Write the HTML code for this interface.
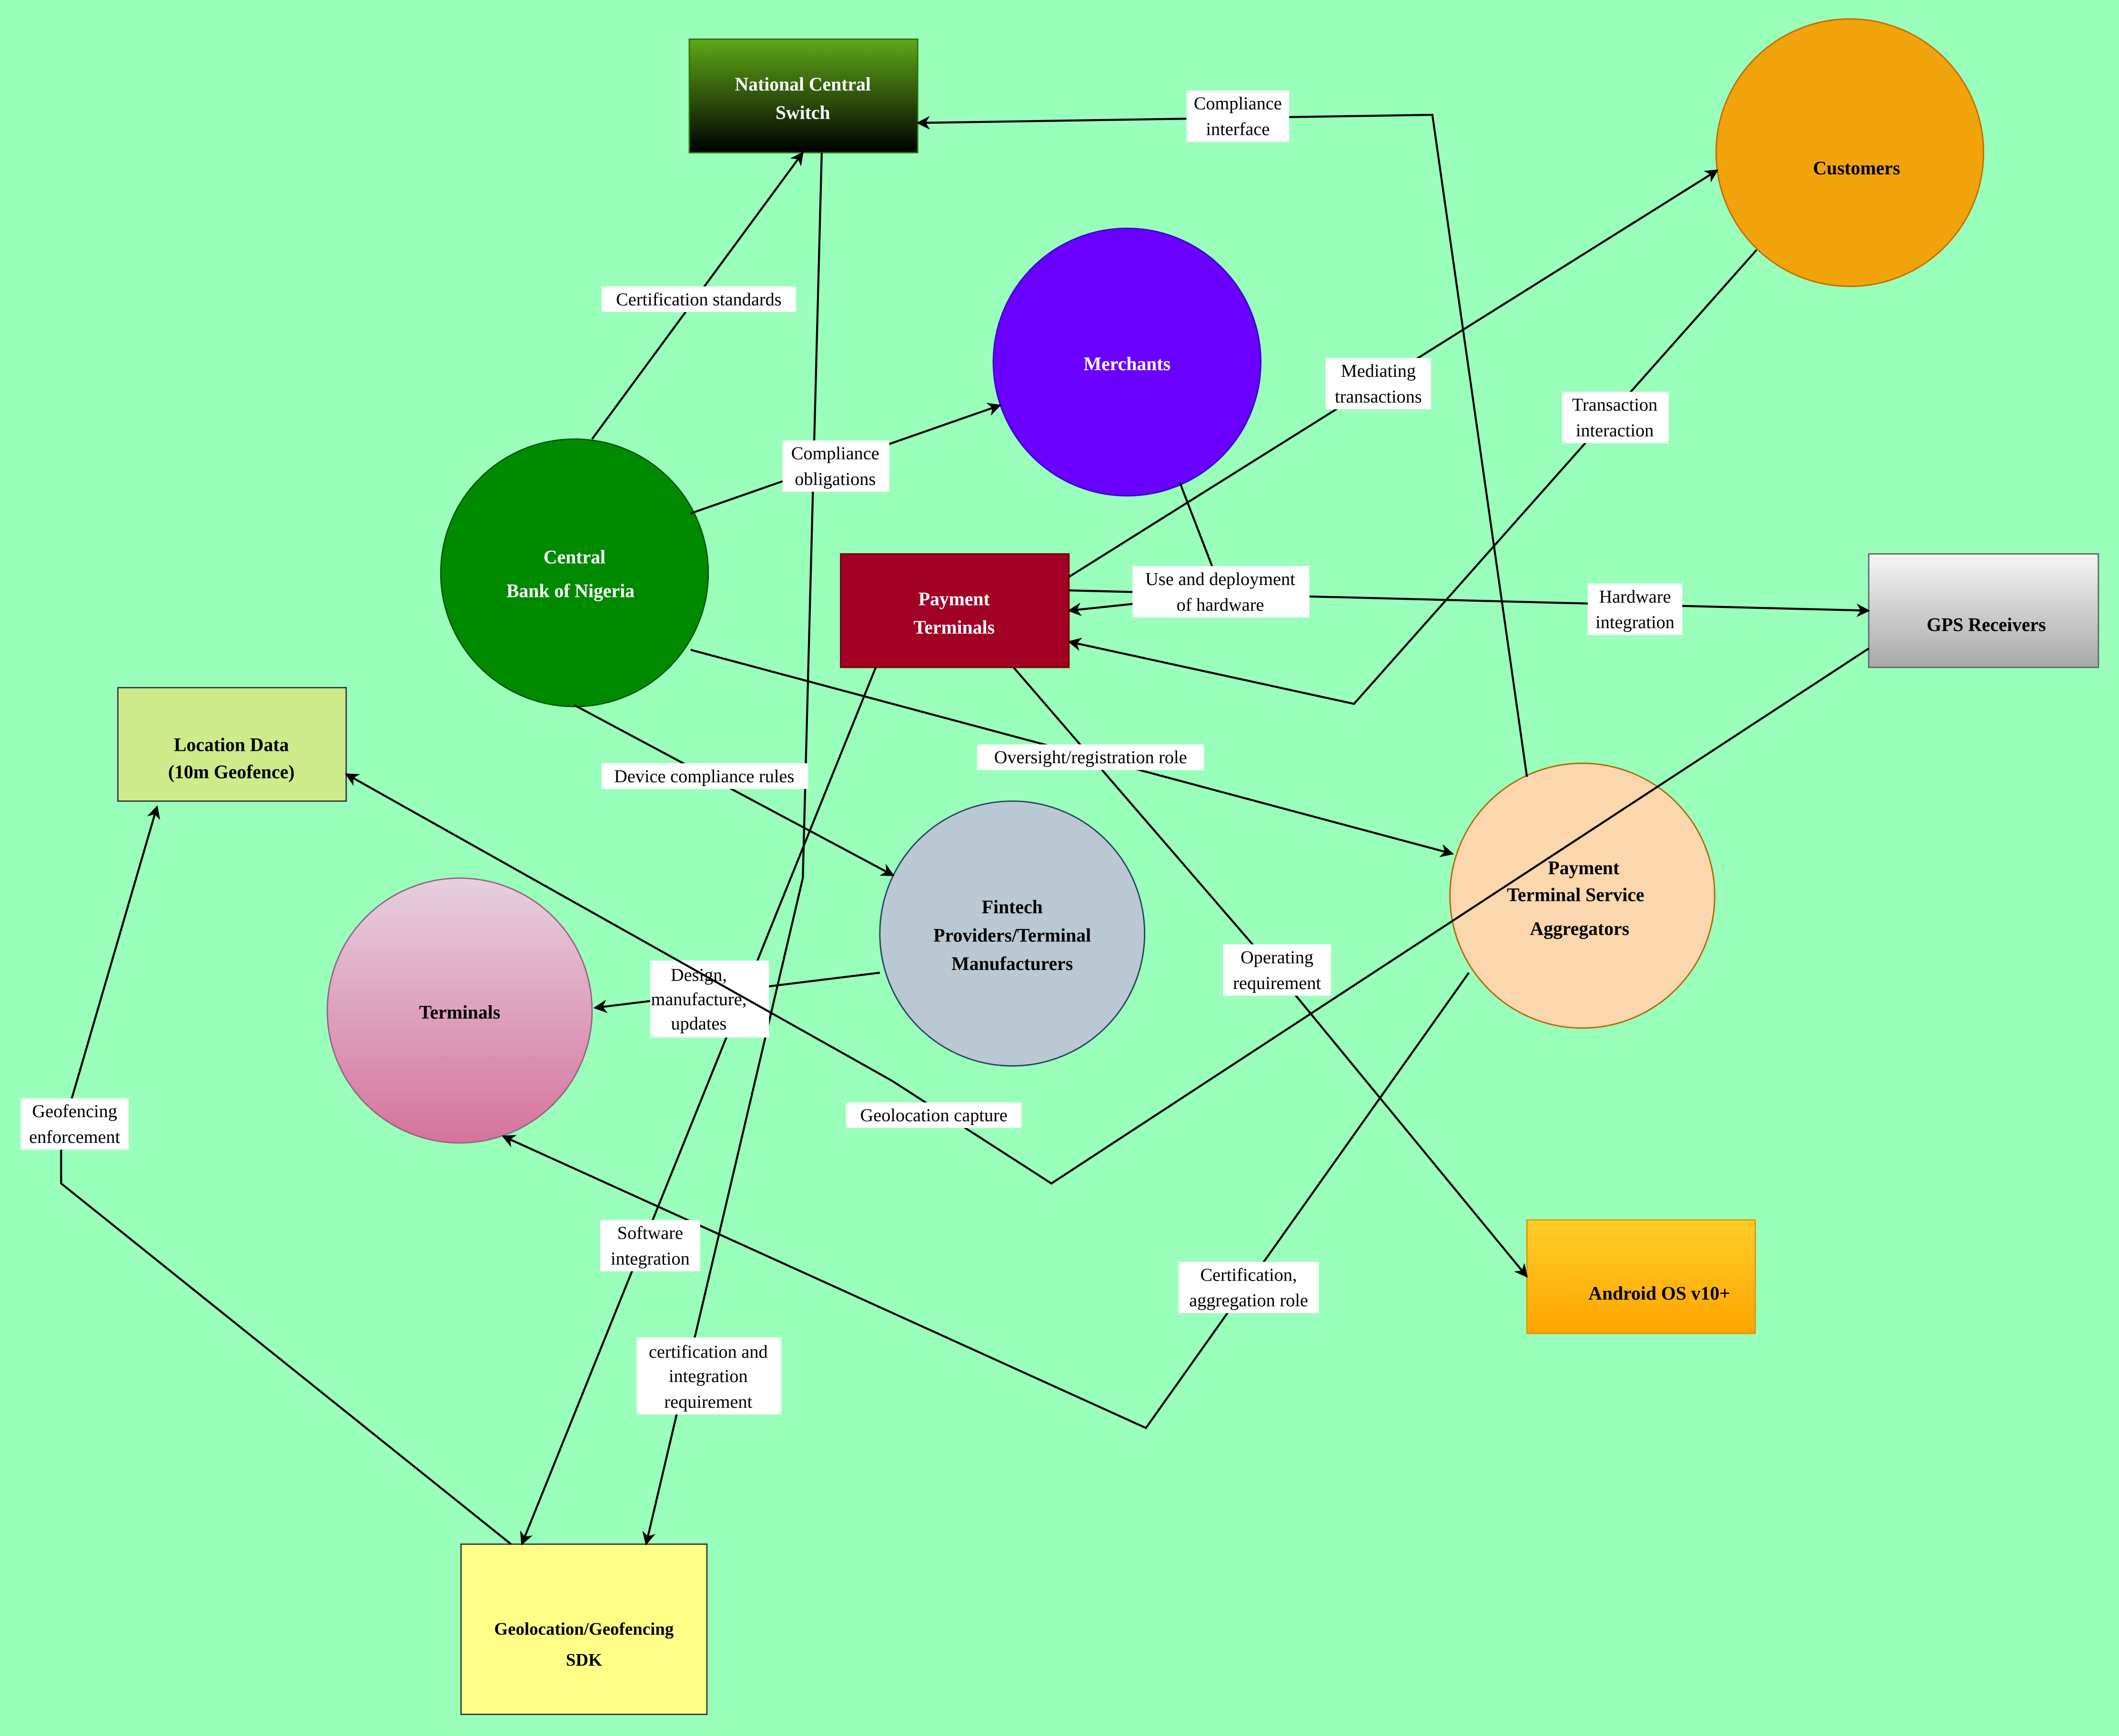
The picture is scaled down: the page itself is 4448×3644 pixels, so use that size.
<!DOCTYPE html>
<html><head><meta charset="utf-8"><style>
html,body{margin:0;padding:0;background:#99ffbb;}
svg{display:block}
text{font-family:"Liberation Serif",serif;}
.n{font-weight:bold;font-size:14px;text-anchor:middle}
.l{font-size:13.5px;text-anchor:middle;fill:#000}
.e{fill:none;stroke:#000;stroke-width:1.5}
</style></head><body>
<svg width="4448" height="3644" viewBox="0 0 1568 1285" xmlns="http://www.w3.org/2000/svg">
<defs>
<linearGradient id="gn" x1="0" y1="0" x2="0" y2="1"><stop offset="0" stop-color="#60a917"/><stop offset="1" stop-color="#000"/></linearGradient>
<linearGradient id="gg" x1="0" y1="0" x2="0" y2="1"><stop offset="0" stop-color="#f5f5f5"/><stop offset="1" stop-color="#a8a8a8"/></linearGradient>
<linearGradient id="gt" x1="0" y1="0" x2="0" y2="1"><stop offset="0" stop-color="#e6d0de"/><stop offset="1" stop-color="#d5739d"/></linearGradient>
<linearGradient id="ga" x1="0" y1="0" x2="0" y2="1"><stop offset="0" stop-color="#ffcd28"/><stop offset="1" stop-color="#ffa500"/></linearGradient>
<marker id="a" markerWidth="10" markerHeight="10" refX="9" refY="5" orient="auto" markerUnits="userSpaceOnUse"><path d="M0,0 L10,5 L0,10 L3,5 z" fill="#000"/></marker>
</defs>
<rect width="1568" height="1285" fill="#99ffbb"/>
<!-- nodes -->
<rect x="510" y="29" width="169" height="84" fill="url(#gn)" stroke="#2d7600"/>
<text class="n" x="594" y="67" fill="#fff">National Central</text><text class="n" x="594" y="88" fill="#fff">Switch</text>
<circle cx="1369" cy="113" r="99" fill="#f0a30a" stroke="#c46a00"/>
<text class="n" x="1374" y="129" fill="#000">Customers</text>
<circle cx="834" cy="268" r="99" fill="#6a00ff" stroke="#3700cc"/>
<text class="n" x="834" y="274" fill="#fff">Merchants</text>
<circle cx="425" cy="424" r="99" fill="#008a00" stroke="#005700"/>
<text class="n" x="425" y="417" fill="#fff">Central</text><text class="n" x="422" y="442" fill="#fff">Bank of Nigeria</text>
<rect x="622" y="410" width="169" height="84" fill="#a20025" stroke="#6f0000"/>
<text class="n" x="706" y="448" fill="#fff">Payment</text><text class="n" x="706" y="469" fill="#fff">Terminals</text>
<rect x="1383" y="410" width="170" height="84" fill="url(#gg)" stroke="#666"/>
<text class="n" x="1470" y="467" fill="#000">GPS Receivers</text>
<rect x="87" y="509" width="169" height="84" fill="#cdeb8b" stroke="#36393d"/>
<text class="n" x="171" y="556" fill="#000">Location Data</text><text class="n" x="171" y="576" fill="#000">(10m Geofence)</text>
<circle cx="749" cy="691" r="98" fill="#bac8d3" stroke="#23445d"/>
<text class="n" x="749" y="676" fill="#000">Fintech</text><text class="n" x="749" y="697" fill="#000">Providers/Terminal</text><text class="n" x="749" y="718" fill="#000">Manufacturers</text>
<circle cx="1171" cy="663" r="98" fill="#fad7ac" stroke="#b46504"/>
<text class="n" x="1172" y="647" fill="#000">Payment</text><text class="n" x="1166" y="667" fill="#000">Terminal Service</text><text class="n" x="1169" y="692" fill="#000">Aggregators</text>
<circle cx="340" cy="748" r="98" fill="url(#gt)" stroke="#996185"/>
<text class="n" x="340" y="754" fill="#000">Terminals</text>
<rect x="1130" y="903" width="169" height="84" fill="url(#ga)" stroke="#d79b00"/>
<text class="n" x="1228" y="962" fill="#000">Android OS v10+</text>
<rect x="341" y="1143" width="182" height="126" fill="#ffff88" stroke="#36393d"/>
<text class="n" x="432" y="1210" fill="#000" style="font-size:13px">Geolocation/Geofencing</text><text class="n" x="432" y="1233" fill="#000" style="font-size:13px">SDK</text>
<!-- edges -->
<g class="e" marker-end="url(#a)">
<path d="M438,325 L594,113"/>
<path d="M511,380 L740,300"/>
<path d="M511,481 L1075,632"/>
<path d="M425,522 L661,648"/>
<path d="M651,720 L440,746"/>
<path d="M873,357 L905,440 L791,452"/>
<path d="M791,427 L1271,126"/>
<path d="M1300,185 L1002,521 L791,475"/>
<path d="M791,437 L1383,452"/>
<path d="M750,494 L945,720 L1130,945"/>
<path d="M1130,575 L1060,85 L679,91"/>
<path d="M608,113 L594,650 L478,1143"/>
<path d="M648,494 L386,1143"/>
<path d="M1087,720 L848,1057 L372,841"/>
<path d="M378,1143 L45,876 L45,840 L116,597"/>
</g>
<!-- labels -->
<g>
<rect x="445" y="212" width="144" height="19" fill="#fff"/><text class="l" x="517" y="226">Certification standards</text>
<rect x="579" y="326" width="79" height="38" fill="#fff"/><text class="l" x="618" y="340">Compliance</text><text class="l" x="618" y="359">obligations</text>
<rect x="723" y="551" width="168" height="19" fill="#fff"/><text class="l" x="807" y="565">Oversight/registration role</text>
<rect x="445" y="565" width="153" height="19" fill="#fff"/><text class="l" x="521" y="579">Device compliance rules</text>
<rect x="481" y="711" width="88" height="57" fill="#fff"/><text class="l" x="517" y="726">Design,</text><text class="l" x="517" y="744">manufacture,</text><text class="l" x="517" y="762">updates</text>
<rect x="838" y="419" width="131" height="38" fill="#fff"/><text class="l" x="903" y="433">Use and deployment</text><text class="l" x="903" y="452">of hardware</text>
<rect x="981" y="265" width="78" height="38" fill="#fff"/><text class="l" x="1020" y="279">Mediating</text><text class="l" x="1020" y="298">transactions</text>
<rect x="1156" y="290" width="79" height="38" fill="#fff"/><text class="l" x="1195" y="304">Transaction</text><text class="l" x="1195" y="323">interaction</text>
<rect x="1175" y="432" width="70" height="38" fill="#fff"/><text class="l" x="1210" y="446">Hardware</text><text class="l" x="1210" y="465">integration</text>
<rect x="905" y="699" width="80" height="38" fill="#fff"/><text class="l" x="945" y="713">Operating</text><text class="l" x="945" y="732">requirement</text>
<rect x="878" y="67" width="76" height="38" fill="#fff"/><text class="l" x="916" y="81">Compliance</text><text class="l" x="916" y="100">interface</text>
<rect x="471" y="990" width="107" height="57" fill="#fff"/><text class="l" x="524" y="1005">certification and</text><text class="l" x="524" y="1023">integration</text><text class="l" x="524" y="1042">requirement</text>
<rect x="444" y="903" width="74" height="38" fill="#fff"/><text class="l" x="481" y="917">Software</text><text class="l" x="481" y="936">integration</text>
<rect x="872" y="934" width="104" height="38" fill="#fff"/><text class="l" x="924" y="948">Certification,</text><text class="l" x="924" y="967">aggregation role</text>
<rect x="15" y="813" width="80" height="38" fill="#fff"/><text class="l" x="55" y="827">Geofencing</text><text class="l" x="55" y="846">enforcement</text>
</g>
<path class="e" marker-end="url(#a)" d="M1383,480 L778,876 L660,800 L256,573"/>
<rect x="626" y="816" width="130" height="19" fill="#fff"/><text class="l" x="691" y="830">Geolocation capture</text>
</svg>
</body></html>
